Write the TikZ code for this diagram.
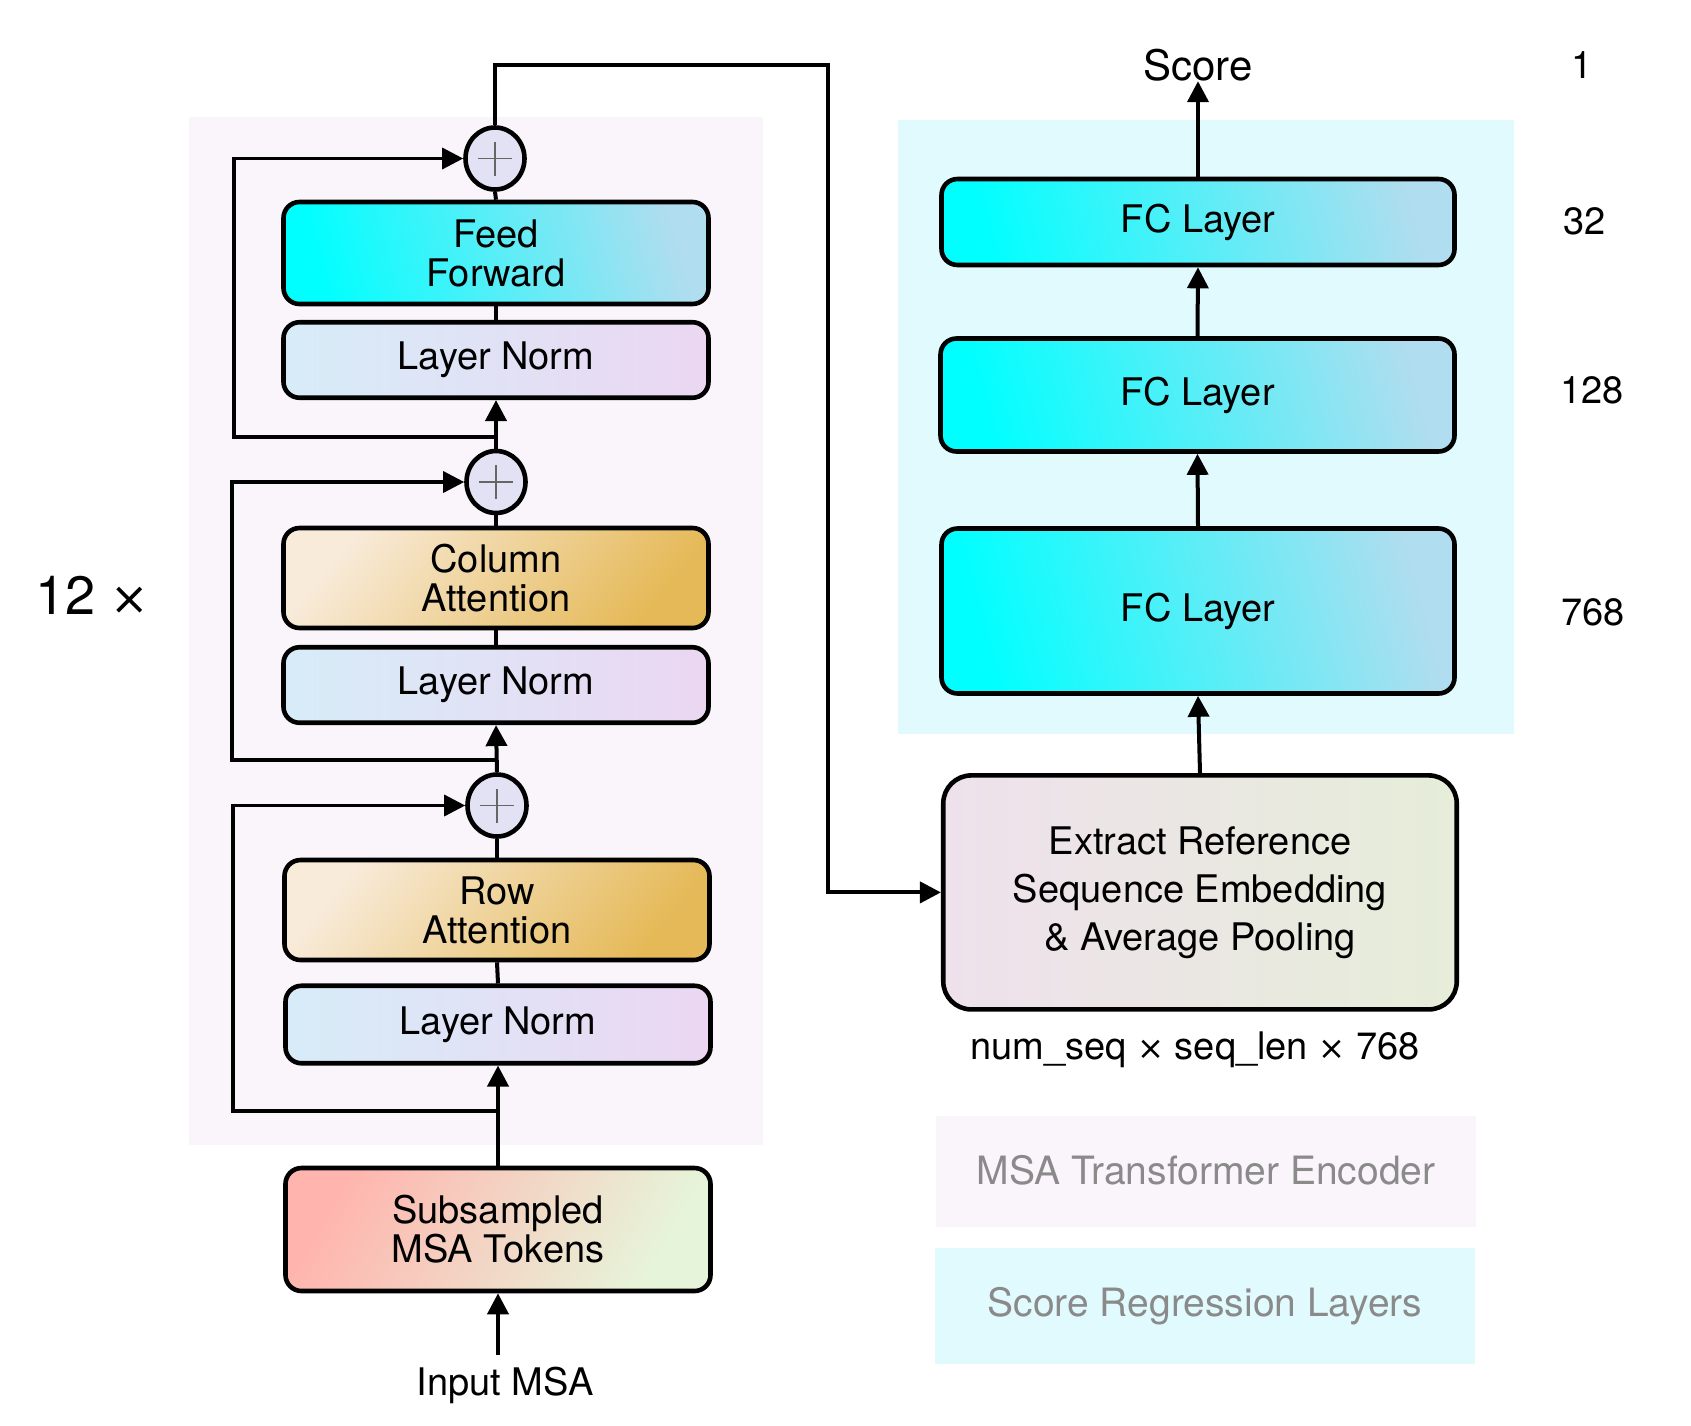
\documentclass[tikz,border=0pt]{standalone}
\usepackage{fontspec}
\setmainfont{TeX Gyre Heros}
\newfontfamily\timesfont[Scale=0.85]{DejaVu Sans}
\newcommand{\tms}{{\timesfont ×}}
\usetikzlibrary{arrows.meta,shapes.geometric,calc}
\definecolor{encbg}{HTML}{FAF5FA}
\definecolor{regbg}{HTML}{E0FAFD}
\definecolor{cyanA}{HTML}{00FFFF}
\definecolor{cyanM}{HTML}{70F2F8}
\definecolor{cyanB}{HTML}{B0DDEF}
\definecolor{lnA}{HTML}{D7ECF8}
\definecolor{lnB}{HTML}{EBD7F2}
\definecolor{atA}{HTML}{F8EBDA}
\definecolor{atB}{HTML}{E5B957}
\definecolor{subA}{HTML}{FFB5AE}
\definecolor{subM}{HTML}{F6E4CC}
\definecolor{subB}{HTML}{E6F5DA}
\definecolor{exA}{HTML}{EEE1EC}
\definecolor{exB}{HTML}{E6EDD9}
\definecolor{plusfill}{HTML}{E3E2F5}
\definecolor{legtext}{HTML}{8A8A8A}
\tikzset{
  blk/.style={draw=black, line width=2.3pt, rounded corners=8pt, align=center,
    font=\fontsize{19}{19.5}\selectfont, inner sep=0pt},
  ffbox/.style={blk, top color=cyanB, middle color=cyanM, bottom color=cyanA, shading angle=-75},
  lnbox/.style={blk, left color=lnA, right color=lnB},
  atbox/.style={blk, top color=atA, bottom color=atB, shading angle=50},
  subbox/.style={blk, top color=subA, middle color=subM, bottom color=subB, shading angle=60},
  exbox/.style={blk, rounded corners=14pt, left color=exA, right color=exB,
    font=\fontsize{19}{24}\selectfont},
  plusnode/.style={ellipse, draw=black, line width=2.3pt, fill=plusfill,
    minimum width=29.5pt, minimum height=31pt, inner sep=0pt,
    path picture={\draw[black!60, line width=0.9pt]
      ([xshift=-8.5pt]path picture bounding box.center) -- ([xshift=8.5pt]path picture bounding box.center)
      ([yshift=-8.5pt]path picture bounding box.center) -- ([yshift=8.5pt]path picture bounding box.center);}},
  tip/.style={-{Triangle[length=10.5pt,width=10.5pt]}},
  conn/.style={line width=2pt},
  arr/.style={line width=2pt, tip},
  loop/.style={line width=1.7pt, tip},
  lbl/.style={font=\fontsize{19}{22}\selectfont, inner sep=0pt},
  legbox/.style={draw=none, minimum width=270pt, font=\fontsize{19.5}{22}\selectfont, text=legtext}
}
\begin{document}
\begin{tikzpicture}[x=0.5pt,y=-0.5pt]
\fill[white] (0,0) rectangle (1691,1425);
\useasboundingbox (0,0) rectangle (1691,1425);
% backgrounds
\fill[encbg] (189,116.5) rectangle (763,1145);
\fill[regbg] (898,119.7) rectangle (1514,734.4);

% left column
\node[ffbox, minimum width=212.5pt, minimum height=51pt] (ff) at (496,253) {Feed\\Forward};
\node[lnbox, minimum width=212.5pt, minimum height=37.75pt] (ln1) at (496,360) {Layer Norm};
\node[plusnode] (p1) at (495,158.5) {};
\node[plusnode] (p2) at (496,482) {};
\node[atbox, minimum width=212.5pt, minimum height=50pt] (ca) at (496,578) {Column\\Attention};
\node[lnbox, minimum width=212.5pt, minimum height=37.75pt] (ln2) at (496,685) {Layer Norm};
\node[plusnode] (p3) at (497,805.5) {};
\node[atbox, minimum width=212.5pt, minimum height=50pt] (ra) at (497,910) {Row\\Attention};
\node[lnbox, minimum width=212.5pt, minimum height=38.75pt] (ln3) at (498,1024.5) {Layer Norm};
\node[subbox, minimum width=212.5pt, minimum height=61.5pt] (sub) at (498,1229.5) {Subsampled\\MSA Tokens};
\node[lbl] (inp) at (505,1385) {Input MSA};
\node[font=\fontsize{27}{30}\selectfont, inner sep=0pt] (rep) at (92,595) {12 \tms};

% right column
\node[ffbox, minimum width=256.5pt, minimum height=43pt] (fc1) at (1198,222) {FC Layer};
\node[ffbox, minimum width=257pt, minimum height=56.5pt] (fc2) at (1197.5,395) {FC Layer};
\node[ffbox, minimum width=256.5pt, minimum height=82.5pt] (fc3) at (1198,611) {FC Layer};
\node[exbox, minimum width=256.75pt, minimum height=117pt] (ext) at (1200,892.4) {Extract Reference\\Sequence Embedding\\\& Average Pooling};
\node[font=\fontsize{21}{24}\selectfont, inner sep=0pt] (score) at (1198,64.7) {Score};
\node[lbl] (dim) at (1195,1050) {num\_seq \tms{} seq\_len \tms{} 768};
\node[lbl, anchor=west] (n1) at (1571,64.7) {1};
\node[lbl, anchor=west] (n32) at (1563,221) {32};
\node[lbl, anchor=west] (n128) at (1560,390) {128};
\node[lbl, anchor=west] (n768) at (1561,612.5) {768};

% legend
\node[legbox, fill=encbg, minimum height=55.5pt] (leg1) at (1206,1171.5) {\raisebox{2pt}{MSA Transformer Encoder}};
\node[legbox, fill=regbg, minimum height=58pt] (leg2) at (1205,1306) {Score Regression Layers};

% main flow left
\coordinate (inpstart) at (498,1355);
\draw[arr] (inpstart) -- (sub.south);
\draw[arr] (sub.north) -- (ln3.south);
\draw[conn] (ln3.north) -- (ra.south);
\draw[conn] (ra.north) -- (p3.south);
\draw[arr] (p3.north) -- (ln2.south);
\draw[conn] (ln2.north) -- (ca.south);
\draw[conn] (ca.north) -- (p2.south);
\draw[arr] (p2.north) -- (ln1.south);
\draw[conn] (ln1.north) -- (ff.south);
\draw[conn] (ff.north) -- (p1.south);

% residual loops
\coordinate (b3) at (498,1110.8);
\coordinate (b2) at (497,760);
\coordinate (b1) at (496,436.8);
\draw[loop] (b3) -- (233,1110.8) -- (233,805.5) -- (p3.west);
\draw[loop] (b2) -- (232,760) -- (232,482) -- (p2.west);
\draw[loop] (b1) -- (234,436.8) -- (234,158.5) -- (p1.west);

% route to extract
\coordinate (r1) at (495,64.7);
\coordinate (r2) at (828,64.7);
\draw[arr] (p1.north) -- (r1) -- (r2) -- (r2 |- ext.west) -- (ext.west);

% right flow
\draw[arr] (ext.north) -- (fc3.south);
\draw[arr] (fc3.north) -- (fc2.south);
\draw[arr] (fc2.north) -- (fc1.south);
\draw[arr] (fc1.north) -- (score.south);
\end{tikzpicture}
\end{document}
